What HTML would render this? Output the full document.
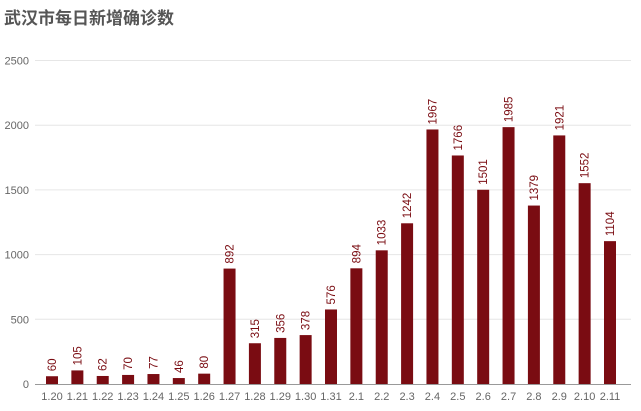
<!DOCTYPE html>
<html><head><meta charset="utf-8"><style>
body{margin:0;background:#fff;}
svg{display:block;font-family:"Liberation Sans","Noto Sans CJK SC",sans-serif;}
</style></head><body>
<svg id="c" width="641" height="411">
<text x="4" y="24" font-size="17" font-weight="bold" fill="#555">武汉市每日新增确诊数</text>
</svg>
<script>
const categories=["1.20","1.21","1.22","1.23","1.24","1.25","1.26","1.27","1.28","1.29","1.30","1.31","2.1","2.2","2.3","2.4","2.5","2.6","2.7","2.8","2.9","2.10","2.11"];
const values=[60,105,62,70,77,46,80,892,315,356,378,576,894,1033,1242,1967,1766,1501,1985,1379,1921,1552,1104];
const yTicks=[0,500,1000,1500,2000,2500];
const svg=document.getElementById('c');
const NS='http://www.w3.org/2000/svg';
const x0=35,x1=631,y0=384,yTop=60.5,yMax=2500;
const firstC=52,lastC=610;
const step=(lastC-firstC)/(categories.length-1);
const xc=i=>firstC+step*i;
const y=v=>y0-(v/yMax)*(y0-yTop);
function mk(t,a){const e=document.createElementNS(NS,t);for(const k in a)e.setAttribute(k,a[k]);svg.appendChild(e);return e;}
yTicks.forEach(v=>{
  if(v>0){const g=mk('line',{x1:x0,x2:x1,y1:y(v),y2:y(v),stroke:'#e6e6e6','stroke-width':1});
  
  }
  const t=mk('text',{x:29,y:y(v)+4,'text-anchor':'end','font-size':11,fill:'#666'});
  t.textContent=v;
  
  
});
const ax=mk('line',{x1:x0,x2:x1,y1:y0+0.5,y2:y0+0.5,stroke:'#999','stroke-width':1});


categories.forEach((c,i)=>{
  const cx=xc(i),v=values[i];
  const b=mk('rect',{x:cx-6,y:y(v),width:12,height:y0-y(v),fill:'#7a0c12'});
  
  
  const l=mk('text',{x:0,y:0,'font-size':11.5,fill:'#7a0c12',transform:`translate(${cx+4},${y(v)-5}) rotate(-90)`});
  l.textContent=v;
  
  
  const t=mk('text',{x:cx,y:400,'text-anchor':'middle','font-size':11,fill:'#666'});
  t.textContent=c;
  
  
});
</script>
</body></html>
